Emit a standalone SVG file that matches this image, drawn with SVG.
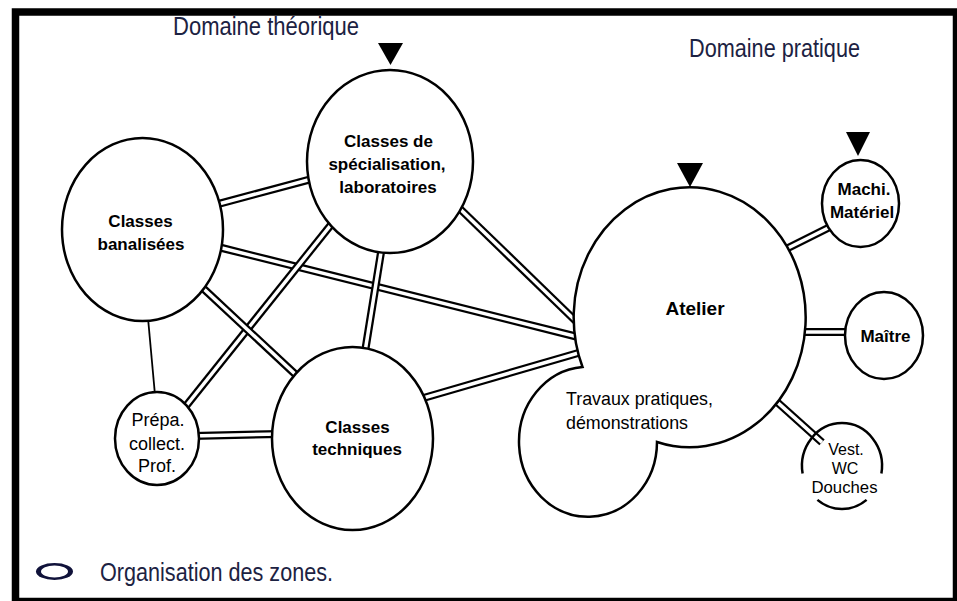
<svg xmlns="http://www.w3.org/2000/svg" xmlns:xlink="http://www.w3.org/1999/xlink" width="957" height="601" viewBox="0 0 957 601">
<style>
.zone{fill:#fff;stroke:#000;stroke-width:2.5}
.open{fill:none;stroke:#000;stroke-width:2.5}
.lbl{font-family:"Liberation Sans",Arial,sans-serif;font-size:17px;font-weight:bold;fill:#000;text-anchor:middle}
.lblr{font-family:"Liberation Sans",Arial,sans-serif;font-size:18px;fill:#000;text-anchor:middle}
.ttl{font-family:"Liberation Sans",Arial,sans-serif;font-size:25px;fill:#1c2242}
.mark{fill:#000}
.dbo{stroke:#000;stroke-width:8;fill:none}
.dbi{stroke:#fff;stroke-width:3.5;fill:none}
.sgl{stroke:#000;stroke-width:1.8;fill:none}
</style>
<defs>
<path id="c1" d="M212,205.7 L318,177.3"/>
<path id="c2" d="M212,245.5 L590,340"/>
<path id="c3" d="M383,240 L364,358"/>
<path id="c4" d="M336,218.5 L180,413.5"/>
<path id="c5" d="M198,283.5 L302,380.5"/>
<path id="c6" d="M192,436 L280,434"/>
<path id="c7" d="M420,399 L592,349"/>
<path id="c8" d="M780,252 L836,224"/>
<path id="c9" d="M796,332 L852,332"/>
<path id="c10" d="M770,395.6 L822,442.4"/>
<path id="c11" d="M455,204 L585,330"/>
</defs>
<rect x="0" y="0" width="957" height="601" fill="#fff"/>
<rect x="15.5" y="12" width="941" height="589.5" fill="none" stroke="#000" stroke-width="7.5"/>

<text class="ttl" x="173" y="35" textLength="186" lengthAdjust="spacingAndGlyphs">Domaine théorique</text>
<text class="ttl" x="689" y="57" textLength="171" lengthAdjust="spacingAndGlyphs">Domaine pratique</text>

<g id="connectors">
<line class="sgl" x1="148" y1="318" x2="155" y2="395"/>
<use xlink:href="#c1" class="dbo"/><use xlink:href="#c1" class="dbi"/>
<use xlink:href="#c2" class="dbo"/><use xlink:href="#c2" class="dbi"/>
<use xlink:href="#c3" class="dbo"/><use xlink:href="#c3" class="dbi"/>
<use xlink:href="#c4" class="dbo"/><use xlink:href="#c4" class="dbi"/>
<use xlink:href="#c5" class="dbo"/><use xlink:href="#c5" class="dbi"/>
<use xlink:href="#c6" class="dbo"/><use xlink:href="#c6" class="dbi"/>
<use xlink:href="#c7" class="dbo"/><use xlink:href="#c7" class="dbi"/>
<use xlink:href="#c11" class="dbo"/><use xlink:href="#c11" class="dbi"/>
<use xlink:href="#c8" class="dbo"/><use xlink:href="#c8" class="dbi"/>
<use xlink:href="#c9" class="dbo"/><use xlink:href="#c9" class="dbi"/>
<use xlink:href="#c10" class="dbo"/><use xlink:href="#c10" class="dbi"/>
</g>

<g id="classes-banalisees">
<ellipse class="zone" cx="142.5" cy="229.5" rx="80.5" ry="91.5"/>
<text class="lbl" x="140.5" y="227">Classes</text>
<text class="lbl" x="141" y="250">banalisées</text>
</g>

<g id="classes-specialisation">
<polygon class="mark" points="378,43 403,43 390.5,65"/>
<ellipse class="zone" cx="390" cy="161.5" rx="83" ry="91.5"/>
<text class="lbl" x="388.5" y="147">Classes de</text>
<text class="lbl" x="387" y="170">spécialisation,</text>
<text class="lbl" x="388" y="193">laboratoires</text>
</g>

<g id="prepa">
<ellipse class="zone" cx="157" cy="438.5" rx="42" ry="46.5"/>
<text class="lblr" x="158" y="426">Prépa.</text>
<text class="lblr" x="157" y="450">collect.</text>
<text class="lblr" x="157" y="472">Prof.</text>
</g>

<g id="classes-techniques">
<ellipse class="zone" cx="352.5" cy="438.5" rx="80.5" ry="91.5"/>
<text class="lbl" x="357.5" y="433">Classes</text>
<text class="lbl" x="357" y="455">techniques</text>
</g>

<g id="atelier">
<polygon class="mark" points="677,163 703,163 690,187"/>
<path class="zone" d="M582.5,367 A116,130 0 1 1 657,442 A69,75 0 1 1 582.5,367 Z"/>
<text class="lbl" x="695" y="315" style="font-size:19px">Atelier</text>
<text class="lblr" x="566" y="405" style="text-anchor:start;font-size:19px" textLength="147" lengthAdjust="spacingAndGlyphs">Travaux pratiques,</text>
<text class="lblr" x="566" y="429" style="text-anchor:start;font-size:19px" textLength="122" lengthAdjust="spacingAndGlyphs">démonstrations</text>
</g>

<g id="machi-materiel">
<polygon class="mark" points="846,132 870,132 858,156"/>
<ellipse class="zone" cx="860.5" cy="203.5" rx="38.5" ry="43.5"/>
<text class="lbl" x="864" y="195">Machi.</text>
<text class="lbl" x="862" y="218">Matériel</text>
</g>

<g id="maitre">
<ellipse class="zone" cx="884" cy="335.5" rx="39" ry="43.5"/>
<text class="lbl" x="885.5" y="342">Maître</text>
</g>

<g id="vestiaires">
<path class="open" d="M881.4,473.5 A40,43 0 1 0 802.6,473.5"/>
<path class="open" d="M817.4,499.9 A40,43 0 0 0 866.6,499.9"/>
<text class="lblr" x="846" y="455" style="font-size:16px">Vest.</text>
<text class="lblr" x="845" y="474" style="font-size:16px">WC</text>
<text class="lblr" x="844.5" y="493" style="font-size:16px" textLength="66" lengthAdjust="spacingAndGlyphs">Douches</text>
</g>

<g id="legend">
<ellipse cx="54.5" cy="571.5" rx="18.5" ry="8.5" fill="#10123a"/>
<ellipse cx="54.5" cy="571.5" rx="13.5" ry="6" fill="#fff"/>
<text class="ttl" x="100" y="581" textLength="233" lengthAdjust="spacingAndGlyphs">Organisation des zones.</text>
</g>
</svg>
